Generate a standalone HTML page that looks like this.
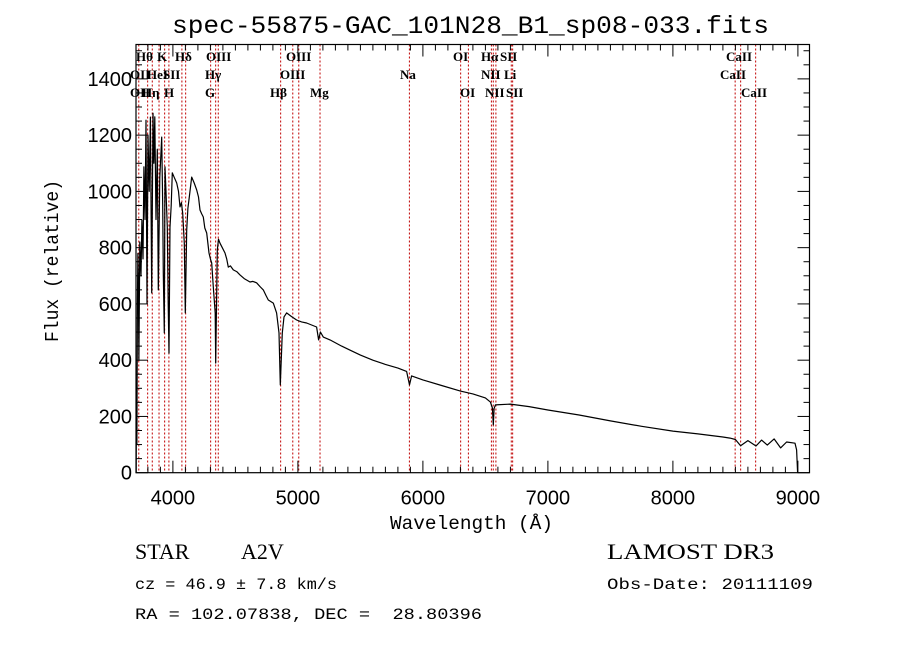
<!DOCTYPE html>
<html><head><meta charset="utf-8"><style>
html,body{margin:0;padding:0;background:#fff;}
svg{display:block;}
text{white-space:pre;}
</style></head><body>
<svg id="chart" width="900" height="649" xmlns="http://www.w3.org/2000/svg">
<rect x="0" y="0" width="900" height="649" fill="#fff"/>
<text x="172" y="33" font-family="Liberation Mono, monospace" font-size="25" textLength="597" lengthAdjust="spacingAndGlyphs">spec-55875-GAC_101N28_B1_sp08-033.fits</text>
<g id="lines"></g>
<g id="labels" font-family="Liberation Serif, serif" font-size="13" font-weight="bold"></g>
<g id="spec"></g>
<g id="axes"></g>
<text x="390" y="529" font-family="Liberation Mono, monospace" font-size="19" textLength="163" lengthAdjust="spacingAndGlyphs">Wavelength (Å)</text>
<text transform="translate(58,342) rotate(-90)" font-family="Liberation Mono, monospace" font-size="19" textLength="162" lengthAdjust="spacingAndGlyphs">Flux (relative)</text>
<text x="135" y="559" font-family="Liberation Serif, serif" font-size="22">STAR</text>
<text x="241" y="559" font-family="Liberation Serif, serif" font-size="22">A2V</text>
<text x="607" y="559" font-family="Liberation Serif, serif" font-size="22" textLength="167" lengthAdjust="spacingAndGlyphs">LAMOST DR3</text>
<text x="135" y="589" font-family="Liberation Mono, monospace" font-size="16" textLength="202" lengthAdjust="spacingAndGlyphs">cz = 46.9 ± 7.8 km/s</text>
<text x="607" y="589" font-family="Liberation Mono, monospace" font-size="16" textLength="206" lengthAdjust="spacingAndGlyphs">Obs-Date: 20111109</text>
<text x="135" y="619" font-family="Liberation Mono, monospace" font-size="16" textLength="347" lengthAdjust="spacingAndGlyphs">RA = 102.07838, DEC =  28.80396</text>
</svg>
<script>
const wavelengths = [3706,3708,3712,3716,3720,3723,3728,3735,3745,3752,3761,3768,3777,3785,3793,3801,3810,3820,3830,3841,3848,3855,3865,3875,3883,3895,3910,3918,3923,3931,3937,3945,3955,3962,3969,3977,3986,3995,4010,4030,4045,4057,4068,4078,4091,4099,4110,4120,4131,4150,4170,4190,4205,4217,4230,4243,4255,4270,4289,4300,4310,4323,4338,4342,4355,4365,4377,4395,4417,4430,4443,4460,4483,4510,4537,4570,4617,4640,4670,4700,4723,4745,4763,4803,4830,4849,4859,4875,4889,4910,4950,4990,5030,5070,5110,5150,5166,5180,5203,5257,5350,5420,5500,5600,5700,5800,5870,5893,5910,6000,6150,6300,6400,6500,6540,6556,6563,6570,6580,6700,6850,7000,7250,7500,7750,8000,8200,8400,8457,8500,8542,8600,8665,8710,8755,8810,8862,8910,8977,8990,8998];
const fluxes = [0,310,100,600,780,710,400,820,700,898,760,1087,900,1253,603,1200,1000,1264,639,1278,1100,1265,900,1150,650,1050,1193,950,710,497,1087,1000,873,600,425,873,950,1066,1050,1030,1000,945,960,923,816,568,862,940,980,1051,1030,1005,980,934,920,909,870,852,781,760,746,660,568,390,792,830,816,800,781,760,731,735,721,715,703,690,678,680,675,660,650,630,614,603,568,497,312,497,554,568,555,543,536,532,525,518,472,500,482,472,450,435,418,400,385,372,360,312,344,330,310,290,280,266,251,230,170,228,241,244,235,223,205,184,165,148,138,127,123,118,96,114,95,116,98,120,88,109,105,81,0];
const lineWaves = [3727,3798,3835,3889,3934,3968,4072,4102,4302,4342,4363,4862,4959,5007,5177,5892,6302,6364,6548,6563,6584,6707,6718,8498,8542,8662];
const xTicks = [4000,5000,6000,7000,8000,9000];
const yTicks = [0,200,400,600,800,1000,1200,1400];
const labelTexts = ["Hθ","K","Hδ","OIII","OIII","OI","Hα","SII","CaII","OII","HeI","SII","Hγ","OIII","Na","NII","Li","CaII","OII","Hη","H","G","Hβ","Mg","OI","NII","SII","CaII"];
const labelX =    [136,157,175,206,286,453,481,500,726,130,147,163,205,280,400,481,504,720,130,142,164,205,270,310,460,485,506,741];
const labelRow =  [0,0,0,0,0,0,0,0,0,1,1,1,1,1,1,1,1,1,2,2,2,2,2,2,2,2,2,2];

const L=136,R=809.5,T=44.5,B=472.7;
const xScale = w => 172.9 + (w-4000)*0.125;
const yScale = f => B - f*0.2813;
const NS='http://www.w3.org/2000/svg';
function mk(tag, attrs, parent){const e=document.createElementNS(NS,tag);for(const k in attrs)e.setAttribute(k,attrs[k]);parent.appendChild(e);return e;}

const gl=document.getElementById('lines');
lineWaves.forEach(w=>{
  const ln=mk('line',{x1:xScale(w),x2:xScale(w),y1:T,y2:B,stroke:'#c00000','stroke-width':1,'stroke-dasharray':'2,2'},gl);
  
  
});
const glab=document.getElementById('labels');
labelTexts.forEach((t,i)=>{
  const tx=mk('text',{x:labelX[i],y:61+labelRow[i]*18},glab);
  tx.textContent=t;
  
  
});
const gs=document.getElementById('spec');
let d='';
wavelengths.forEach((w,i)=>{d+=(i?'L':'M')+xScale(w).toFixed(1)+' '+yScale(fluxes[i]).toFixed(1);});
const p=mk('path',{d:d,fill:'none',stroke:'#000','stroke-width':1.2,'stroke-linejoin':'round'},gs);



const ga=document.getElementById('axes');
const fr=mk('rect',{x:L,y:T,width:R-L,height:B-T,fill:'none',stroke:'#000','stroke-width':1.2},ga);


for(let w=3800;w<=9100;w+=100){
  const x=xScale(w); if(x<L||x>R)continue;
  const len=(w%1000===0)?12:6;
  mk('line',{x1:x,x2:x,y1:B,y2:B-len,stroke:'#000'},ga);
  mk('line',{x1:x,x2:x,y1:T,y2:T+len,stroke:'#000'},ga);
}
xTicks.forEach(w=>{
  const t=mk('text',{x:xScale(w),y:B+32,'text-anchor':'middle','font-family':'Liberation Sans, sans-serif','font-size':20},ga);
  t.textContent=w;
  
  
});
for(let f=0;f<=1500;f+=50){
  const y=yScale(f); if(y<T)continue;
  const len=(f%200===0)?12:6;
  mk('line',{x1:L,x2:L+len,y1:y,y2:y,stroke:'#000'},ga);
  mk('line',{x1:R,x2:R-len,y1:y,y2:y,stroke:'#000'},ga);
}
yTicks.forEach(f=>{
  const t=mk('text',{x:L-4,y:yScale(f)+7,'text-anchor':'end','font-family':'Liberation Sans, sans-serif','font-size':20},ga);
  t.textContent=f;
  
  
});
</script>
</body></html>
